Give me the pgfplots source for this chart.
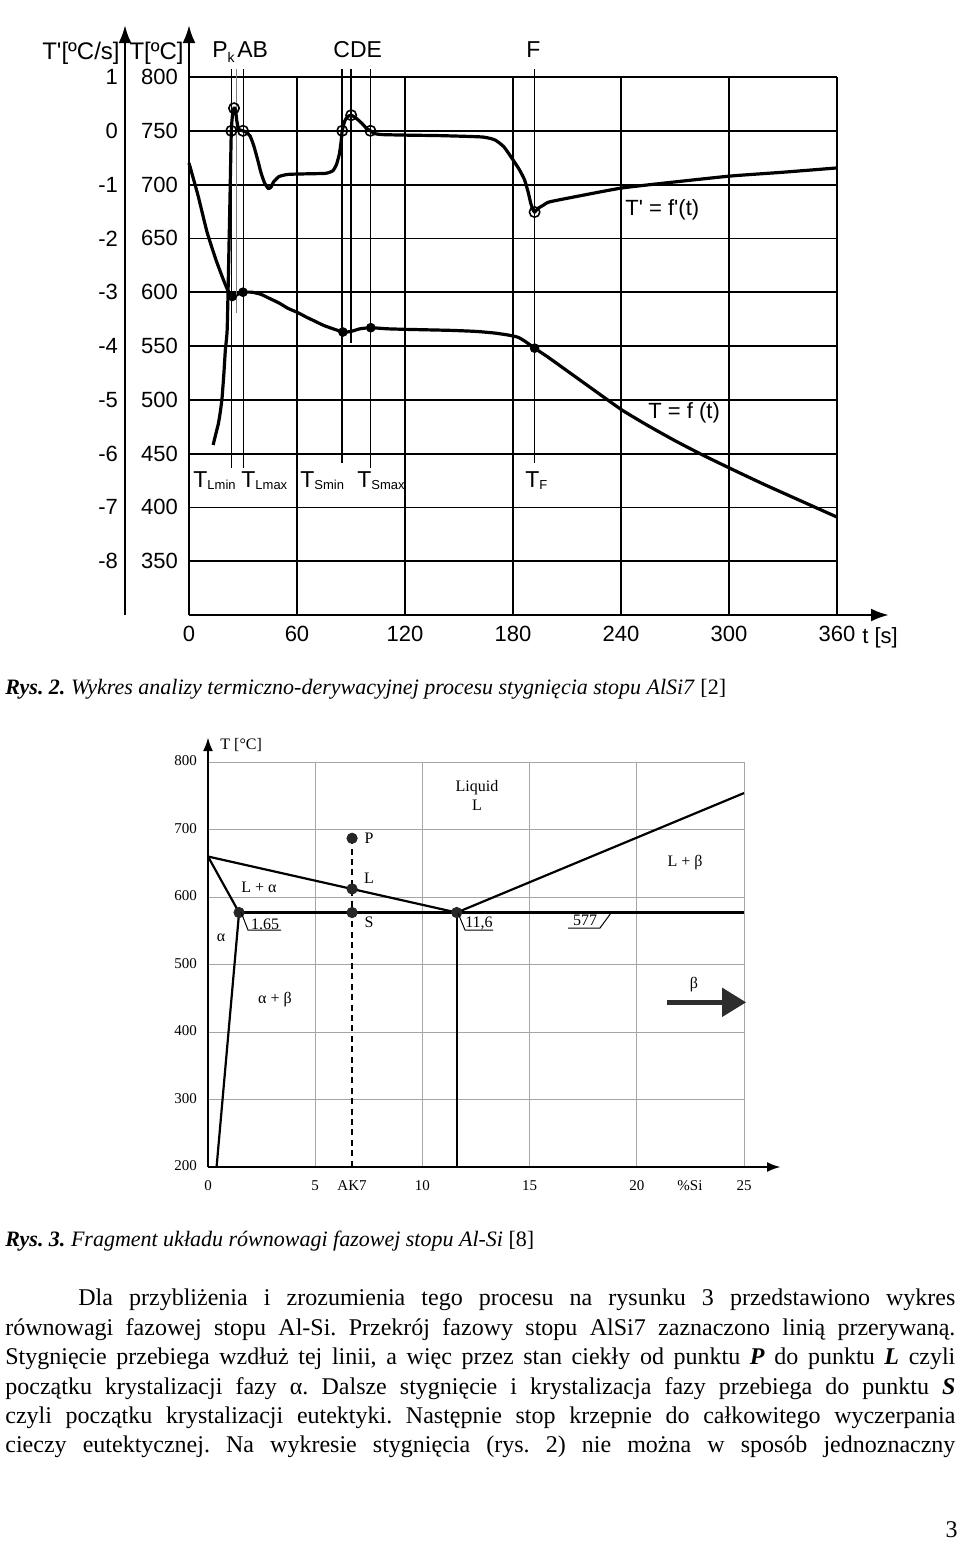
\documentclass[border=0pt]{standalone}
\usepackage{fontspec}
\setmainfont{Liberation Serif}
\newfontfamily\arial{Liberation Sans}
\usepackage{pgfplots}
\pgfplotsset{compat=1.18}
\usetikzlibrary{arrows.meta}
\frenchspacing
\begin{document}
\begin{tikzpicture}
\path[use as bounding box] (0,0) rectangle (480pt,-771pt);

% ================= Chart 1: T = f(t) =================
\begin{axis}[
  at={(94.5pt,-307.5pt)}, anchor=south west,
  scale only axis, width=324pt, height=269pt,
  xmin=0, xmax=360, ymin=300, ymax=800,
  axis lines=left, clip=false,
  xtick={0,60,...,360}, ytick={350,400,...,800},
  grid=major, major grid style={black, line width=0.9pt},
  major tick length=0pt,
  axis line style={line width=1.4pt},
  x axis line style={-{Latex[length=9pt,width=6.5pt]}, shorten >=-26pt},
  y axis line style={-{Latex[length=9pt,width=6.5pt]}, shorten >=-26pt},
  tick label style={font=\arial\fontsize{11}{13}\selectfont},
  yticklabel style={xshift=-2pt},
  xticklabel style={yshift=-2pt},
  /pgf/number format/assume math mode=true,
]
\addplot[line width=1.6pt, smooth, tension=0.3] coordinates {
(0,720) (5,690) (10,656) (15,630) (19,612) (21.5,602) (23,598)
(24,596) (26,597) (28,599) (30,600) (35,600) (40,598) (45,594) (50,590) (55,585)
(60.5,581) (65,577) (70,573) (75,569) (80,566) (85.5,563) (88,563) (91,564) (95,566)
(101,567) (110,566) (120,565.5) (146,564.5) (160,563.5) (170,562) (178,560) (183,558)
(187,554) (192,548) (200,539) (210,527) (220,515) (230,503) (241,490) (255,476)
(270,462) (285,449) (301,436) (320,421) (340,406) (360,391)};
\addplot[only marks, mark=*, mark size=2.2pt] coordinates {
(24,596) (30,600) (85.5,563) (101,567) (192,548)};
% marker lines
\addplot[line width=0.8pt] coordinates {(23.5,807) (23.5,437)};
\addplot[line width=0.4pt, gray] coordinates {(26.3,807) (26.3,581)};
\addplot[line width=0.8pt] coordinates {(30.2,807) (30.2,437)};
\addplot[line width=0.8pt] coordinates {(85.1,807) (85.1,441)};
\addplot[line width=0.8pt] coordinates {(90.1,807) (90.1,553)};
\addplot[line width=0.8pt] coordinates {(100.8,807) (100.8,437)};
\addplot[line width=0.8pt] coordinates {(192,807) (192,441)};
\end{axis}

% ================= Chart 1: T' axis =================
\begin{axis}[
  at={(62.5pt,-307.5pt)}, anchor=south west,
  scale only axis, width=356pt, height=269pt,
  xmin=-35.5556, xmax=360, ymin=-9, ymax=1,
  axis y line=left, hide x axis, clip=false,
  ytick={-8,-7,...,1},
  major tick length=0pt,
  y axis line style={line width=1.4pt, -{Latex[length=9pt,width=6.5pt]}, shorten >=-26pt},
  tick label style={font=\arial\fontsize{11}{13}\selectfont},
  /pgf/number format/assume math mode=true,
]
\addplot[line width=1.6pt, smooth, tension=0.3] coordinates {
(13.4,-5.84) (15,-5.62) (16.4,-5.43) (17.5,-5.2) (18.4,-4.95) (19.4,-4.5) (20.2,-4.07)
(21.2,-3.7) (22,-2.5) (22.8,-1.2) (23.5,0) (24.2,0.3) (25,0.42) (25.8,0.4) (26.5,0.2)
(27.5,0.03) (30,0) (32,-0.03) (34,-0.1) (36,-0.28) (38,-0.52) (40,-0.78) (42,-0.97)
(44,-1.07) (45.5,-1.05) (47,-0.95) (50,-0.85) (55,-0.81) (65,-0.8) (76,-0.79) (80,-0.74)
(82,-0.62) (83.6,-0.42) (84.5,-0.2) (85.1,0) (86.5,0.18) (88,0.26) (90.1,0.29) (93,0.23)
(96,0.14) (98.5,0.05) (100.8,0) (103,-0.05) (107,-0.07) (120,-0.08) (140,-0.09)
(163,-0.115) (170,-0.17) (175,-0.3) (180,-0.54) (183.5,-0.72) (186.4,-0.91) (188.5,-1.15)
(189.8,-1.34) (191,-1.46) (192,-1.51) (194,-1.44) (197,-1.38) (200.4,-1.32) (220,-1.19)
(241,-1.06) (270,-0.95) (301,-0.84) (330,-0.77) (360,-0.69)};
\addplot[only marks, mark=o, mark size=2.6pt, mark options={line width=0.8pt}] coordinates {
(23.5,0) (25,0.42) (30,0) (85.1,0) (90.1,0.29) (100.8,0) (192,-1.51)};
\end{axis}

% ================= Chart 2: Al-Si phase diagram =================
\begin{axis}[
  at={(104pt,-583.5pt)}, anchor=south west,
  scale only axis, width=268pt, height=202.5pt,
  xmin=0, xmax=25, ymin=200, ymax=800,
  axis lines=left, clip=false,
  xtick={0,5,...,25}, ytick={200,300,...,800},
  extra x ticks={6.72,22.48}, extra x tick labels={AK7,\%Si},
  extra x tick style={grid=none},
  grid=major, major grid style={gray!70, line width=0.5pt},
  major tick length=0pt,
  axis line style={line width=1.3pt},
  x axis line style={-{Latex[length=7pt,width=5pt]}, shorten >=-18.5pt},
  y axis line style={-{Latex[length=7pt,width=5pt]}, shorten >=-12.5pt},
  tick label style={font=\fontsize{7.5}{9}\selectfont},
  typeset ticklabels with strut,
  yticklabel style={xshift=-2pt},
  xticklabel style={yshift=-2pt},
  /pgf/number format/assume math mode=true,
]
\addplot[line width=1.1pt] coordinates {(0,660) (11.6,577) (25,754)};
\addplot[line width=1.1pt] coordinates {(0,660) (1.45,577) (0.4,200)};
\addplot[line width=1.1pt] coordinates {(1.45,577) (25,577)};
\addplot[line width=1.1pt] coordinates {(11.6,577) (11.6,200)};
\addplot[line width=1.1pt, dash pattern=on 3pt off 2.2pt] coordinates {(6.72,687) (6.72,200)};
\addplot[only marks, mark=*, mark size=2.6pt, color=gray!30!black] coordinates {
(1.45,577) (6.72,687) (6.72,612) (6.72,577) (11.6,577)};
\draw[line width=2.4pt, gray!35!black, -{Triangle[length=12pt,width=14pt]}] (axis cs:21.4,444) -- (axis cs:25.1,444);
\end{axis}

\begin{scope}[x=0.5pt,y=-0.5pt]
% chart 1 labels
\node[anchor=east, inner sep=0, font=\arial\fontsize{12}{14}\selectfont] at (120,53) {T'[ºC/s]};
\node[anchor=east, inner sep=0, font=\arial\fontsize{12}{14}\selectfont] at (184,53) {T[ºC]};
\node[anchor=base west, inner sep=0, font=\arial\fontsize{11.5}{13}\selectfont] at (212,57) {P\raisebox{-0.45ex}{\fontsize{7}{7}\selectfont k}};
\node[anchor=base west, inner sep=0, font=\arial\fontsize{11.5}{13}\selectfont] at (237,57) {AB};
\node[anchor=base west, inner sep=0, font=\arial\fontsize{11.5}{13}\selectfont] at (333,57) {CDE};
\node[anchor=base west, inner sep=0, font=\arial\fontsize{11.5}{13}\selectfont] at (526,57) {F};
\node[anchor=west, inner sep=0, font=\arial\fontsize{11}{13}\selectfont] at (625,210) {T' = f'(t)};
\node[anchor=west, inner sep=0, font=\arial\fontsize{11}{13}\selectfont] at (648,413) {T = f (t)};
\foreach \xx/\ss in {193/Lmin,241/Lmax,300/Smin,357/Smax,525/F}{
  \node[anchor=base west, inner sep=0, font=\arial\fontsize{11.5}{13}\selectfont] at (\xx,487) {T\raisebox{-0.2ex}{\fontsize{6.5}{7}\selectfont\ss}};
}
\node[anchor=base west, inner sep=0, font=\arial\fontsize{11}{13}\selectfont] at (862,643) {t [s]};

% caption 1
\node[anchor=base west, inner sep=0] at (5,694) {\fontsize{11}{13}\selectfont\textbf{\textit{Rys. 2.}} \textit{Wykres analizy termiczno-derywacyjnej procesu stygnięcia stopu AlSi7} [2]};

% chart 2 labels
\begin{scope}[every node/.style={inner sep=0, font=\fontsize{8}{9.5}\selectfont}]
\node[anchor=west] at (220,745) {T [°C]};
\node at (477,788) {Liquid};
\node at (477,805) {L};
\node at (369,838) {P};
\node at (369,878) {L};
\node at (369,922) {S};
\node at (259,887) {L + α};
\node at (221,938) {α};
\node at (265,924) {1.65};
\node at (479,923) {11,6};
\node at (585,920) {577};
\node at (685,863) {L + β};
\node at (694,985) {β};
\node at (275,1000) {α + β};
\end{scope}
\draw[line width=0.5pt] (241,912) -- (248,930) -- (281,930);
\draw[line width=0.5pt] (458,913) -- (465,930) -- (493,930);
\draw[line width=0.5pt] (568,928) -- (600,928) -- (611,913);

% caption 2
\node[anchor=base west, inner sep=0] at (5,1246) {\fontsize{11}{13}\selectfont\textbf{\textit{Rys. 3.}} \textit{Fragment układu równowagi fazowej stopu Al-Si} [8]};

% body text
\begin{scope}[every node/.style={anchor=base west, inner sep=0, font=\fontsize{12}{14.75}\selectfont}]
\node at (78,1305) {\makebox[438.5pt][s]{Dla przybliżenia i zrozumienia tego procesu na rysunku 3 przedstawiono wykres}};
\node at (5,1335) {\makebox[475pt][s]{równowagi fazowej stopu Al-Si. Przekrój fazowy stopu AlSi7 zaznaczono linią przerywaną.}};
\node at (5,1364) {\makebox[475pt][s]{Stygnięcie przebiega wzdłuż tej linii, a więc przez stan ciekły od punktu \textbf{\textit{P}} do punktu \textbf{\textit{L}} czyli}};
\node at (5,1394) {\makebox[475pt][s]{początku krystalizacji fazy α. Dalsze stygnięcie i krystalizacja fazy przebiega do punktu \textbf{\textit{S}}}};
\node at (5,1423) {\makebox[475pt][s]{czyli początku krystalizacji eutektyki. Następnie stop krzepnie do całkowitego wyczerpania}};
\node at (5,1452) {\makebox[475pt][s]{cieczy eutektycznej. Na wykresie stygnięcia (rys. 2) nie można w sposób jednoznaczny}};
\end{scope}
\node[anchor=base east, inner sep=0, font=\fontsize{12}{14}\selectfont] at (958,1537) {3};
\end{scope}
\end{tikzpicture}
\end{document}
